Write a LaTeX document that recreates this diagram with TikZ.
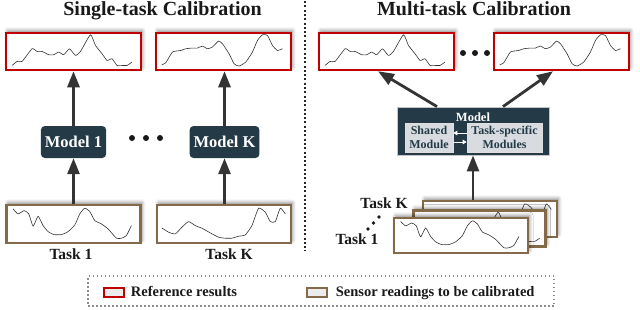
\documentclass[tikz,border=0pt]{standalone}
\usepackage{fontspec}
\setmainfont{Liberation Serif}
\usetikzlibrary{arrows.meta,positioning,shadows.blur}
\definecolor{refred}{RGB}{192,0,0}
\definecolor{sensbrown}{RGB}{132,106,72}
\definecolor{modeldark}{RGB}{36,58,70}
\definecolor{arrowgray}{RGB}{52,52,52}
\definecolor{modgray}{RGB}{216,220,225}
\definecolor{legendgray}{RGB}{140,140,140}

\newcommand\ttlfont{\fontsize{20}{24}\selectfont\bfseries}
\newcommand\mdlfont{\fontsize{16.5}{20}\selectfont\bfseries}
\newcommand\tskfont{\fontsize{15.5}{18}\selectfont\bfseries}
\newcommand\lgdfont{\fontsize{14.5}{17}\selectfont\bfseries}
\newcommand\smlfont{\fontsize{12}{14}\selectfont\bfseries}

% sensor curves, measured from the box's upper left corner
\newcommand\waveA{plot[smooth,tension=.3] coordinates {(7.3,33.7) (12.3,29.7) (17.3,29.7) (27.3,17) (32.3,19.7) (37.3,19.7) (44,23) (49,23) (54,20.3) (59,23) (64.7,17) (70.7,23.7) (75.7,19.7) (85.7,3) (90.7,13.7) (97.3,22) (102.3,28.7) (107.3,27) (112.3,33.7) (119,33.7) (122.3,33.7) (127.3,30.3)}}
\newcommand\waveB{plot[smooth,tension=.3] coordinates {(7,33) (11,31) (17.7,20.3) (26,18.7) (31,17) (37.7,16.3) (42.7,16.3) (47.7,14.3) (52.7,17) (57.7,15.3) (63.7,9.3) (67.7,12) (74.3,22) (79.3,32) (84.3,34.3) (91,30.3) (97.7,20.3) (102.7,8.7) (107.7,3) (112.7,3.7) (117.7,13.7) (122.7,18.7) (127.7,17)}}
\newcommand\waveC{plot[smooth,tension=.3] coordinates {(7.7,5) (12.7,10) (18.7,6.7) (23.4,10) (27.7,22.3) (32.7,12.3) (37.7,21.7) (42.7,27.7) (48.7,30.7) (56,30.7) (62.7,27.7) (69.4,21) (74.4,10) (79.4,4.3) (84.4,7.7) (89.4,16.7) (96,20) (102.7,25) (111,34.3) (116,34.3) (121,31.7) (126,21.7)}}
\newcommand\waveK{plot[smooth,tension=.3] coordinates {(6,24) (12.7,28.3) (19.4,30) (26,23.3) (32.7,17.7) (39.4,21.7) (46,24.3) (54.4,29) (62.7,33.3) (69.4,34.3) (76,34.3) (82.7,32.3) (89.4,31) (96,21.7) (102.7,4.3) (109.4,8.3) (114.4,17.7) (119.4,17.7) (124.4,4.3) (129.4,10)}}

\tikzset{
  soft/.style={blur shadow={shadow xshift=1.5pt,shadow yshift=2.5pt,
               shadow blur radius=3.5pt,shadow opacity=45}},
  refbox/.style={rectangle,draw=refred,line width=2.5pt,fill=white,
                 minimum width=135pt,minimum height=37pt,inner sep=0pt,soft},
  sensbox/.style={rectangle,draw=sensbrown,line width=2.2pt,fill=white,
                  minimum width=134pt,minimum height=38pt,inner sep=0pt,soft},
  modelbox/.style={rectangle,rounded corners=4pt,fill=modeldark,text=white,
                   font=\mdlfont,minimum height=32pt,inner xsep=4pt},
  bigmodel/.style={rectangle,fill=modeldark,draw=gray!45,line width=.8pt,
                   minimum width=152pt,minimum height=48pt},
  modbox/.style={rectangle,fill=modgray,draw=white!75!gray,line width=.6pt,
                 text=modeldark,font=\smlfont,align=center,inner sep=0pt,
                 minimum height=29pt},
  arrow/.style={-{Triangle[length=16pt,width=12pt]},line width=2.8pt,arrowgray},
  minarrow/.style={-{Triangle[length=4pt,width=4.5pt]},line width=1pt,white},
  wave/.style={line width=.6pt,black!80,line join=round},
  ttl/.style={font=\ttlfont,anchor=base,inner sep=0pt,text=black!90},
  tsk/.style={font=\tskfont,anchor=base,inner sep=0pt,text=black!90},
  lgd/.style={font=\lgdfont,inner sep=0pt,text height=10pt,text depth=3pt,text=black!90},
  keyicon/.style={rectangle,line width=1.3pt,fill=gray!15,
                  minimum width=20pt,minimum height=9pt,inner sep=0pt},
}

\begin{document}
\begin{tikzpicture}[x=1pt,y=-1pt,
    sepline/.style={line width=2pt,dash pattern=on 2pt off 2.3pt,black!85},
    legendbox/.style={rectangle,draw=legendgray,line width=1.5pt,
                      dash pattern=on 1.5pt off 2.5pt,
                      minimum width=466pt,minimum height=30pt},
  ]
  \useasboundingbox (0,0) rectangle (640,309);

  \node[ttl] (ttlsingle) at (162.5,15) {Single-task Calibration};
  \node[ttl] (ttlmulti) at (474,15) {Multi-task Calibration};

  \draw[sepline] (305,1) -- (305,251);

  % single-task side
  \node[refbox] (ref1) at (73.5,51.5) {};
  \node[refbox] (ref2) at (223.5,51.5) {};
  \draw[wave,shift={(ref1.north west)}] \waveA;
  \draw[wave,shift={(ref2.north west)}] \waveB;

  \node[modelbox] (model1) at (73.5,142) {Model 1};
  \node[modelbox] (modelK) at (224.5,142) {Model K};
  \foreach \px in {132,146,160}
    \fill[black!90] (\px,138) circle (3pt);

  \node[sensbox] (sens1) at (73.5,224) {};
  \node[sensbox] (sensK) at (224,224) {};
  \draw[wave,shift={(sens1.north west)}] \waveC;
  \draw[wave,shift={(sensK.north west)}] \waveK;

  \draw[arrow] (sens1) -- (model1);
  \draw[arrow] (model1) -- (ref1);
  \draw[arrow] (modelK.south |- sensK.north) -- (modelK.south);
  \draw[arrow] (modelK.north) -- (modelK.north |- ref2.south);

  \node[tsk] (lbl1) at (71,259) {Task 1};
  \node[tsk] (lblK) at (229,259) {Task K};

  % multi-task side
  \node[refbox] (ref3) at (386.5,51.5) {};
  \node[refbox] (ref4) at (561.5,51.5) {};
  \draw[wave,shift={(ref3.north west)}] \waveA;
  \draw[wave,shift={(ref4.north west)}] \waveB;
  \foreach \px in {463,475,487}
    \fill[black!90] (\px,53) circle (3pt);

  \node[bigmodel] (mmodel) at (473,131) {};
  \node[font=\fontsize{12.5}{14}\selectfont\bfseries,text=white,anchor=base,
        inner sep=0pt] (mtitle) at (473,121) {Model};
  \node[modbox,minimum width=48pt] (shm) at (429,137.5) {Shared\\Module};
  \node[modbox,minimum width=75pt] (tsm) at (504.5,137.5) {Task-specific\\Modules};
  \draw[minarrow] ([yshift=4.5pt]tsm.west) -- ([yshift=4.5pt]shm.east);
  \draw[minarrow] ([yshift=-4.5pt]shm.east) -- ([yshift=-4.5pt]tsm.west);

  \draw[arrow] ([xshift=-36pt]mmodel.north) -- ([xshift=-8.5pt]ref3.south);
  \draw[arrow] ([xshift=30pt]mmodel.north) -- ([xshift=-8.5pt]ref4.south);

  \node[sensbox,minimum height=36pt] (stackK) at (490,219) {};
  \draw[wave,shift={(stackK.north west)},yscale=.95] \waveK;
  \node[sensbox,minimum width=132pt,minimum height=36pt] (stackM) at (479.5,228.5) {};
  \draw[wave,shift={(stackM.north west)},yscale=.95] \waveA;
  \node[sensbox,minimum height=35pt] (stack1) at (461,235.5) {};
  \draw[wave,shift={(stack1.north west)},yscale=.9] \waveC;

  \draw[arrow] (mmodel.south |- stackK.north) -- (mmodel.south);

  \node[tsk] (lblmK) at (384,208) {Task K};
  \node[tsk] (lblm1) at (357,244) {Task 1};
  \foreach \px/\py in {368/229,373.5/223,379/217}
    \fill[black!90] (\px,\py) circle (1.8pt);

  % legend
  \node[legendbox] (legend) at (321,291) {};
  \node[keyicon,draw=refred] (keyref) at (114,292.5) {};
  \node[lgd,right=6pt of keyref] (txtref) {Reference results};
  \node[keyicon,draw=sensbrown] (keysens) at (317,292.5) {};
  \node[lgd,right=8pt of keysens] (txtsens) {Sensor readings to be calibrated};

\end{tikzpicture}
\end{document}
